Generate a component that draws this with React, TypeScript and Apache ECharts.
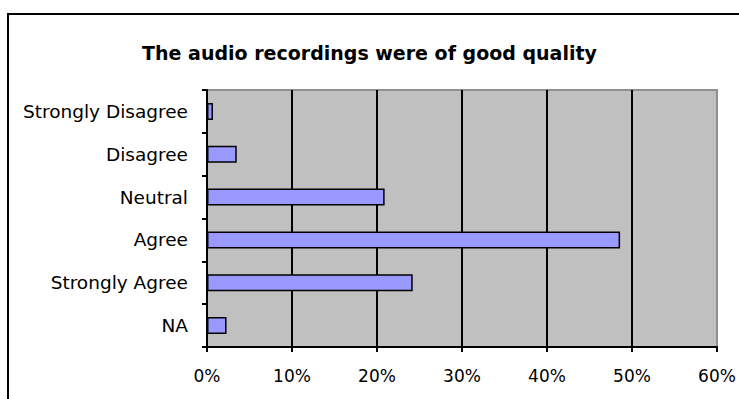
import { useEffect, useRef } from "react";
import * as echarts from "echarts";

// Survey answers, top to bottom, and the share of respondents (percent) for each.
const categories = ["Strongly Disagree", "Disagree", "Neutral", "Agree", "Strongly Agree", "NA"];
const percentages = [0.7, 3.5, 20.9, 48.6, 24.2, 2.3];

// Value axis range and step, in percent.
const axisMin = 0;
const axisMax = 60;
const axisStep = 10;

const chartTitle = "The audio recordings were of good quality";

const FONT = "DejaVu Sans";

export default function App() {
  const ref = useRef<HTMLDivElement>(null);

  useEffect(() => {
    if (!ref.current) return;
    const chart = echarts.init(ref.current, null, { renderer: "svg" });
    chart.setOption({
      animation: false,
      backgroundColor: "#ffffff",
      title: {
        text: chartTitle,
        left: "center",
        top: 38,
        textStyle: { fontFamily: FONT, fontWeight: "bold", fontSize: 19, color: "#000" },
      },
      // Outer chart-area frame running off the right and bottom of the page
      graphic: [
        {
          type: "rect",
          silent: true,
          z: 100,
          shape: { x: 8, y: 14, width: 900, height: 600 },
          style: { fill: "none", stroke: "#000", lineWidth: 2 },
        },
      ],
      grid: {
        left: 207,
        top: 90,
        width: 510,
        height: 257,
        show: true,
        backgroundColor: "#c0c0c0",
        borderColor: "#909090",
        borderWidth: 2,
      },
      xAxis: {
        type: "value",
        min: axisMin,
        max: axisMax,
        interval: axisStep,
        axisLine: { show: true, lineStyle: { color: "#000", width: 2 } },
        axisTick: { show: true, length: 5, lineStyle: { color: "#000", width: 2 } },
        splitLine: { show: true, showMaxLine: false, lineStyle: { color: "#000", width: 2 } },
        axisLabel: {
          formatter: "{value}%",
          margin: 20,
          fontFamily: FONT,
          fontSize: 17,
          color: "#000",
        },
      },
      yAxis: {
        type: "category",
        data: categories,
        inverse: true,
        axisLine: { show: true, lineStyle: { color: "#000", width: 2 } },
        axisTick: { show: true, length: 5, lineStyle: { color: "#000", width: 2 } },
        splitLine: { show: false },
        axisLabel: {
          margin: 19,
          fontFamily: FONT,
          fontSize: 18.5,
          color: "#000",
        },
      },
      series: [
        {
          type: "bar",
          data: percentages,
          barWidth: 17,
          itemStyle: { color: "#9999ff", borderColor: "#000", borderWidth: 1.5 },
        },
      ],
    });
    return () => chart.dispose();
  }, []);

  return (
    <div
      ref={ref}
      style={{ position: "fixed", left: 0, top: 0, width: 739, height: 399 }}
    />
  );
}
